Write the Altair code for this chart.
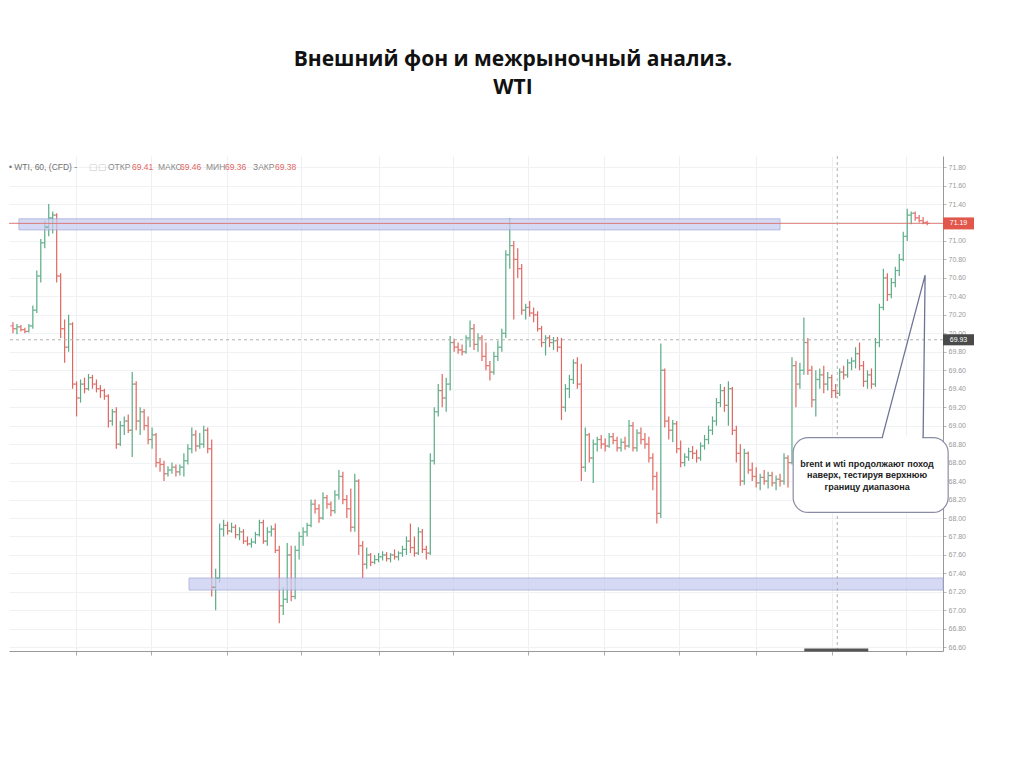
import altair as alt
import pandas as pd

# ---------------- data ----------------
OPEN = [70.08, 70.05, 70.07, 70.04, 70.02, 70.08, 70.25, 70.62, 70.98, 71.15,
        71.25, 71.28, 70.62, 70.05, 69.85, 70.10, 69.45, 69.30, 69.45, 69.40,
        69.52, 69.45, 69.40, 69.38, 69.32, 69.05, 69.15, 68.80, 69.00, 69.05,
        68.95, 69.45, 69.05, 69.15, 69.00, 68.85, 68.90, 68.60, 68.58, 68.48,
        68.52, 68.55, 68.50, 68.55, 68.62, 68.75, 68.90, 68.78, 68.80, 68.95,
        68.75, 67.25, 67.35, 67.88, 67.92, 67.86, 67.90, 67.82, 67.85, 67.75,
        67.72, 67.74, 67.82, 67.95, 67.75, 67.85, 67.88, 67.65, 67.05, 67.12,
        67.60, 67.15, 67.65, 67.80, 67.85, 67.92, 68.15, 68.10, 68.00, 68.22,
        68.15, 68.08, 68.25, 68.45, 68.20, 68.10, 67.90, 68.40, 67.70, 67.50,
        67.60, 67.52, 67.55, 67.58, 67.60, 67.56, 67.60, 67.58, 67.62, 67.66,
        67.75, 67.68, 67.62, 67.85, 67.66, 67.62, 68.62, 69.15, 69.38, 69.30,
        69.45, 69.90, 69.85, 69.82, 69.80, 69.95, 70.05, 69.88, 69.95, 69.75,
        69.65, 69.58, 69.75, 69.85, 70.00, 70.85, 70.95, 70.80, 70.70, 70.25,
        70.28, 70.22, 70.20, 70.05, 69.90, 69.95, 69.90, 69.92, 69.85, 69.20,
        69.40, 69.50, 69.68, 69.45, 68.55, 68.90, 68.65, 68.80, 68.85, 68.80,
        68.78, 68.88, 68.84, 68.76, 68.82, 68.78, 69.00, 68.76, 68.92, 68.85,
        68.80, 68.65, 68.45, 68.05, 69.60, 69.05, 68.95, 69.02, 68.75, 68.60,
        68.66, 68.72, 68.70, 68.65, 68.78, 68.85, 68.95, 69.05, 69.25, 69.38,
        69.22, 69.40, 68.95, 68.70, 68.40, 68.70, 68.52, 68.45, 68.38, 68.44,
        68.40, 68.46, 68.38, 68.42, 68.40, 68.65, 68.60, 69.65, 69.45, 69.60,
        69.90, 69.60, 69.28, 69.50, 69.55, 69.45, 69.52, 69.38, 69.35, 69.58,
        69.55, 69.68, 69.70, 69.78, 69.65, 69.48, 69.55, 69.45, 69.90, 70.28,
        70.60, 70.42, 70.55, 70.68, 70.80, 71.05, 71.28, 71.30, 71.25, 71.22,
        71.20]

HIGH = [70.12, 70.10, 70.09, 70.06, 70.10, 70.30, 70.68, 71.02, 71.22, 71.40,
        71.32, 71.30, 70.65, 70.15, 70.20, 70.12, 69.48, 69.50, 69.52, 69.56,
        69.55, 69.50, 69.44, 69.40, 69.34, 69.18, 69.20, 69.05, 69.10, 69.12,
        69.58, 69.48, 69.20, 69.18, 69.10, 68.98, 68.92, 68.65, 68.62, 68.56,
        68.60, 68.58, 68.58, 68.70, 68.80, 68.98, 68.95, 68.92, 69.00, 68.98,
        68.85, 67.45, 67.94, 67.98, 67.96, 67.95, 67.93, 67.90, 67.88, 67.80,
        67.78, 67.85, 67.98, 67.98, 67.90, 67.92, 67.94, 67.70, 67.25, 67.73,
        67.70, 67.70, 67.85, 67.90, 67.95, 68.20, 68.20, 68.15, 68.28, 68.25,
        68.18, 68.30, 68.52, 68.50, 68.25, 68.32, 68.48, 68.42, 67.75, 67.68,
        67.62, 67.60, 67.62, 67.64, 67.63, 67.62, 67.66, 67.64, 67.70, 67.80,
        67.94, 67.80, 67.90, 67.88, 67.70, 68.70, 69.20, 69.45, 69.56, 69.52,
        69.97, 69.94, 69.90, 69.88, 69.98, 70.14, 70.10, 70.00, 69.98, 69.90,
        69.70, 69.80, 69.92, 70.05, 70.90, 71.25, 71.00, 70.92, 70.75, 70.32,
        70.35, 70.28, 70.24, 70.08, 69.98, 69.98, 69.96, 69.96, 69.95, 69.45,
        69.55, 69.72, 69.74, 69.67, 68.98, 68.92, 68.85, 68.88, 68.90, 68.86,
        68.92, 68.92, 68.88, 68.86, 68.88, 69.06, 69.04, 68.96, 68.98, 68.92,
        68.88, 68.70, 68.50, 69.89, 69.62, 69.10, 69.06, 69.05, 68.84, 68.70,
        68.76, 68.78, 68.74, 68.82, 68.90, 69.00, 69.10, 69.30, 69.45, 69.42,
        69.48, 69.42, 69.00, 68.80, 68.75, 68.72, 68.60, 68.55, 68.48, 68.52,
        68.50, 68.50, 68.46, 68.48, 68.70, 68.68, 69.74, 69.70, 69.68, 70.17,
        69.95, 69.65, 69.60, 69.62, 69.65, 69.58, 69.55, 69.45, 69.62, 69.65,
        69.72, 69.74, 69.85, 69.90, 69.70, 69.60, 69.62, 69.95, 70.32, 70.70,
        70.65, 70.60, 70.72, 70.86, 71.10, 71.35, 71.32, 71.32, 71.28, 71.26,
        71.22]

LOW = [70.00, 69.99, 70.02, 70.00, 70.01, 70.05, 70.22, 70.55, 70.92, 71.05,
       71.08, 70.55, 69.95, 69.68, 69.80, 69.40, 69.10, 69.25, 69.35, 69.38,
       69.40, 69.36, 69.30, 69.28, 68.98, 69.00, 68.75, 68.78, 68.90, 68.92,
       68.66, 68.95, 68.90, 68.95, 68.80, 68.75, 68.55, 68.50, 68.40, 68.45,
       68.48, 68.45, 68.46, 68.45, 68.58, 68.70, 68.72, 68.75, 68.76, 68.70,
       67.15, 67.00, 67.30, 67.80, 67.82, 67.84, 67.78, 67.76, 67.72, 67.70,
       67.68, 67.72, 67.80, 67.72, 67.70, 67.80, 67.62, 66.86, 66.95, 67.08,
       67.10, 67.12, 67.55, 67.70, 67.80, 67.90, 68.05, 67.95, 67.98, 68.10,
       68.02, 68.05, 68.20, 68.15, 68.00, 67.85, 67.85, 67.60, 67.35, 67.45,
       67.48, 67.50, 67.52, 67.54, 67.53, 67.52, 67.55, 67.54, 67.58, 67.60,
       67.62, 67.58, 67.60, 67.62, 67.55, 67.60, 68.58, 69.10, 69.20, 69.15,
       69.38, 69.80, 69.78, 69.76, 69.78, 69.85, 69.82, 69.80, 69.70, 69.60,
       69.49, 69.55, 69.70, 69.80, 69.95, 70.70, 70.15, 70.60, 70.20, 70.15,
       70.18, 70.12, 70.02, 69.85, 69.76, 69.85, 69.82, 69.80, 69.06, 69.15,
       69.30, 69.45, 69.40, 68.40, 68.50, 68.60, 68.38, 68.72, 68.75, 68.72,
       68.76, 68.80, 68.72, 68.72, 68.74, 68.76, 68.72, 68.72, 68.80, 68.75,
       68.60, 68.30, 67.94, 68.00, 68.98, 68.85, 68.82, 68.70, 68.55, 68.56,
       68.62, 68.64, 68.60, 68.62, 68.74, 68.80, 68.90, 69.00, 69.20, 69.15,
       69.00, 68.90, 68.60, 68.35, 68.36, 68.48, 68.40, 68.33, 68.30, 68.36,
       68.32, 68.34, 68.30, 68.34, 68.36, 68.33, 68.58, 69.20, 69.40, 69.55,
       69.55, 69.20, 69.10, 69.40, 69.35, 69.38, 69.30, 69.30, 69.32, 69.50,
       69.52, 69.60, 69.62, 69.60, 69.42, 69.40, 69.40, 69.42, 69.85, 70.25,
       70.35, 70.38, 70.50, 70.62, 70.78, 71.00, 71.18, 71.22, 71.20, 71.18,
       71.17]

CLOSE = [70.05, 70.07, 70.04, 70.02, 70.08, 70.25, 70.62, 70.98, 71.15, 71.25,
         71.28, 70.62, 70.05, 69.85, 70.10, 69.45, 69.30, 69.45, 69.40, 69.52,
         69.45, 69.40, 69.38, 69.32, 69.05, 69.15, 68.80, 69.00, 69.05, 68.95,
         69.45, 69.05, 69.15, 69.00, 68.85, 68.90, 68.60, 68.58, 68.48, 68.52,
         68.55, 68.50, 68.55, 68.62, 68.75, 68.90, 68.78, 68.80, 68.95, 68.75,
         67.25, 67.35, 67.88, 67.92, 67.86, 67.90, 67.82, 67.85, 67.75, 67.72,
         67.74, 67.82, 67.95, 67.75, 67.85, 67.88, 67.65, 67.05, 67.12, 67.60,
         67.15, 67.65, 67.80, 67.85, 67.92, 68.15, 68.10, 68.00, 68.22, 68.15,
         68.08, 68.25, 68.45, 68.20, 68.10, 67.90, 68.40, 67.70, 67.50, 67.60,
         67.52, 67.55, 67.58, 67.60, 67.56, 67.60, 67.58, 67.62, 67.66, 67.75,
         67.68, 67.62, 67.85, 67.66, 67.62, 68.62, 69.15, 69.38, 69.30, 69.45,
         69.90, 69.85, 69.82, 69.80, 69.95, 70.05, 69.88, 69.95, 69.75, 69.65,
         69.58, 69.75, 69.85, 70.00, 70.85, 70.95, 70.80, 70.70, 70.25, 70.28,
         70.22, 70.20, 70.05, 69.90, 69.95, 69.90, 69.92, 69.85, 69.20, 69.40,
         69.50, 69.68, 69.45, 68.55, 68.90, 68.65, 68.80, 68.85, 68.80, 68.78,
         68.88, 68.84, 68.76, 68.82, 68.78, 69.00, 68.76, 68.92, 68.85, 68.80,
         68.65, 68.45, 68.05, 69.60, 69.05, 68.95, 69.02, 68.75, 68.60, 68.66,
         68.72, 68.70, 68.65, 68.78, 68.85, 68.95, 69.05, 69.25, 69.38, 69.22,
         69.40, 68.95, 68.70, 68.40, 68.70, 68.52, 68.45, 68.38, 68.44, 68.40,
         68.46, 68.38, 68.42, 68.40, 68.65, 68.60, 69.65, 69.45, 69.60, 69.90,
         69.60, 69.28, 69.50, 69.55, 69.45, 69.52, 69.38, 69.35, 69.58, 69.55,
         69.68, 69.70, 69.78, 69.65, 69.48, 69.55, 69.45, 69.90, 70.28, 70.60,
         70.42, 70.55, 70.68, 70.80, 71.05, 71.28, 71.30, 71.25, 71.22, 71.20,
         71.19]

Y_TICKS = [66.60, 66.80, 67.00, 67.20, 67.40, 67.60, 67.80, 68.00, 68.20, 68.40,
           68.60, 68.80, 69.00, 69.20, 69.40, 69.60, 69.80, 70.00, 70.20, 70.40,
           70.60, 70.80, 71.00, 71.20, 71.40, 71.60, 71.80]
X_GRID = [15.9, 34.7, 53.9, 72.5, 92.1, 110.7, 129.6, 148.7, 167.6, 187.0, 206.1, 224.7]

LAST_PRICE = 71.19
CROSS_PRICE = 69.93
CROSS_BAR = 207.4

# resistance / support zones (bar index range, price range)
ZONE_X1 = [1.5, 44.3]
ZONE_X2 = [193.0, 234.0]
ZONE_Y1 = [71.24, 67.35]
ZONE_Y2 = [71.12, 67.22]

NOTE_LINES = ["brent и wti продолжают поход", "наверх, тестируя верхнюю", "границу диапазона"]
NOTE_Y = [68.59, 68.47, 68.34]
NOTE_X = 214.9
NOTE_BOX = dict(x1=196.3, x2=235.3, y1=68.87, y2=68.06)
POINTER_X = [218.7, 229.5, 229.0]
POINTER_Y = [68.87, 70.63, 68.87]
RANGE_BAR = [199.1, 215.2]

TITLE = ["Внешний фон и межрыночный анализ.", "WTI"]

UP = "#5aab86"
DOWN = "#e0665f"

# ---------------- frames ----------------
bars = pd.DataFrame({"i": list(range(len(CLOSE))), "o": OPEN, "h": HIGH, "l": LOW, "c": CLOSE})
bars["dir"] = ["up" if c >= o else "down" for o, c in zip(OPEN, CLOSE)]

W, H = 934, 495
xs = alt.Scale(domain=[-1, 234], nice=False, zero=False)
ys = alt.Scale(domain=[66.56, 71.92], nice=False, zero=False)
col = alt.Color("dir:N", scale=alt.Scale(domain=["up", "down"], range=[UP, DOWN]), legend=None)

x_axis = alt.Axis(values=X_GRID, labels=False, title=None, grid=True, gridColor="#eef0f3",
                  tickSize=4, tickColor="#aaa", domainColor="#999")
y_axis = alt.Axis(orient="right", values=Y_TICKS, format=".2f", title=None, labelFontSize=7,
                  labelColor="#9a9a9a", labelFont="Liberation Sans", tickSize=3, tickColor="#bbb",
                  grid=True, gridColor="#f0f1f4", domainColor="#999", labelPadding=2)


def X(field):
    return alt.X(field, scale=xs, axis=x_axis)


def Y(field):
    return alt.Y(field, scale=ys, axis=y_axis)


base = alt.Chart(bars)
wicks = base.mark_rule(strokeWidth=1.2).encode(x=X("i:Q"), y=Y("l:Q"), y2="h:Q", color=col)
opens = base.mark_tick(orient="horizontal", size=2.6, thickness=1.2, xOffset=-1.4).encode(
    x=X("i:Q"), y=Y("o:Q"), color=col)
closes = base.mark_tick(orient="horizontal", size=2.6, thickness=1.2, xOffset=1.4).encode(
    x=X("i:Q"), y=Y("c:Q"), color=col)

zones_df = pd.DataFrame({"x1": ZONE_X1, "x2": ZONE_X2, "y1": ZONE_Y1, "y2": ZONE_Y2})
zones = alt.Chart(zones_df).mark_rect(fill="#c9cdef", opacity=0.75, stroke="#9ea5d6", strokeWidth=1).encode(
    x=X("x1:Q"), x2="x2:Q", y=Y("y1:Q"), y2="y2:Q")

price_df = pd.DataFrame({"p": [LAST_PRICE]})
price_line = alt.Chart(price_df).mark_rule(color=DOWN, strokeWidth=1, opacity=0.8).encode(y=Y("p:Q"))

cross_df = pd.DataFrame({"p": [CROSS_PRICE], "b": [CROSS_BAR]})
cross_h = alt.Chart(cross_df).mark_rule(color="#b0b0b0", strokeWidth=1, strokeDash=[3, 3]).encode(y=Y("p:Q"))
cross_v = alt.Chart(cross_df).mark_rule(color="#b0b0b0", strokeWidth=1, strokeDash=[3, 3]).encode(x=X("b:Q"))

range_df = pd.DataFrame({"a": [RANGE_BAR[0]], "b": [RANGE_BAR[1]]})
range_bar = alt.Chart(range_df).mark_rule(color="#555555", strokeWidth=3).encode(
    x=X("a:Q"), x2="b:Q", y=alt.value(H - 1))

# price labels on the right axis
last_df = pd.DataFrame({"p": [LAST_PRICE], "t": ["71.19"],
                        "y1": [LAST_PRICE + 0.065], "y2": [LAST_PRICE - 0.065]})
cross_lab_df = pd.DataFrame({"p": [CROSS_PRICE], "t": ["69.93"],
                             "y1": [CROSS_PRICE + 0.06], "y2": [CROSS_PRICE - 0.06]})


def price_label(df, fill):
    box = alt.Chart(df).mark_rect(fill=fill).encode(
        x=alt.value(W), x2=alt.value(W + 31), y=Y("y1:Q"), y2="y2:Q")
    txt = alt.Chart(df).mark_text(color="white", fontSize=7, font="Liberation Sans",
                                  align="center", baseline="middle").encode(
        x=alt.value(W + 15.5), y=Y("p:Q"), text="t:N")
    return [box, txt]


labels = price_label(last_df, "#e2574c") + price_label(cross_lab_df, "#4a4a4a")

# callout
box_df = pd.DataFrame([NOTE_BOX])
note_box = alt.Chart(box_df).mark_rect(fill="white", stroke="#8a8ca6", strokeWidth=1.2, cornerRadius=15).encode(
    x=X("x1:Q"), x2="x2:Q", y=Y("y1:Q"), y2="y2:Q")
gap_df = pd.DataFrame({"a": [POINTER_X[0] + 0.2], "b": [POINTER_X[2] - 0.2], "y": [POINTER_Y[0]]})
note_gap = alt.Chart(gap_df).mark_rule(color="white", strokeWidth=3).encode(
    x=X("a:Q"), x2="b:Q", y=Y("y:Q"))
ptr_df = pd.DataFrame({"x": POINTER_X, "y": POINTER_Y, "n": [0, 1, 2]})
pointer = alt.Chart(ptr_df).mark_line(color="#6f7396", strokeWidth=1.3).encode(
    x=X("x:Q"), y=Y("y:Q"), order="n:Q")
note_df = pd.DataFrame({"t": NOTE_LINES, "y": NOTE_Y, "x": [NOTE_X] * 3})
note_txt = alt.Chart(note_df).mark_text(fontSize=9, fontWeight="bold", font="Liberation Sans",
                                        color="#222222", align="center", baseline="middle").encode(
    x=X("x:Q"), y=Y("y:Q"), text="t:N")

# header line (instrument and OHLC of the hovered bar)
hdr = pd.DataFrame({"z": [0]})


def hdr_text(txt, px, color):
    return alt.Chart(hdr).mark_text(text=txt, fontSize=8.5, font="Liberation Sans", color=color,
                                    align="left", baseline="middle").encode(
        x=alt.value(px), y=alt.value(11))


header = [
    hdr_text("• WTI, 60, (CFD) -", 0, "#6f6f6f"),
    hdr_text("▢▢", 80, "#c8c8c8"),
    hdr_text("ОТКР", 99, "#8a8a8a"), hdr_text("69.41", 123, DOWN),
    hdr_text("МАКС", 149, "#8a8a8a"), hdr_text("69.46", 171, DOWN),
    hdr_text("МИН", 197, "#8a8a8a"), hdr_text("69.36", 216, DOWN),
    hdr_text("ЗАКР", 244, "#8a8a8a"), hdr_text("69.38", 266, DOWN),
]

chart = alt.layer(
    wicks, zones, opens, closes, price_line, cross_h, cross_v, range_bar,
    *labels, note_box, note_gap, pointer, note_txt, *header
).properties(
    width=W, height=H,
    padding={"left": 0, "top": 40, "right": 5, "bottom": 5},
    title=alt.TitleParams(TITLE, fontSize=21, font="Open Sans", fontWeight="bold", lineHeight=28,
                          anchor="middle", dx=37, offset=58, color="#111111"),
    background="white",
).configure_view(stroke=None)

chart.save("out.html", embed_options={"renderer": "svg", "actions": False})
